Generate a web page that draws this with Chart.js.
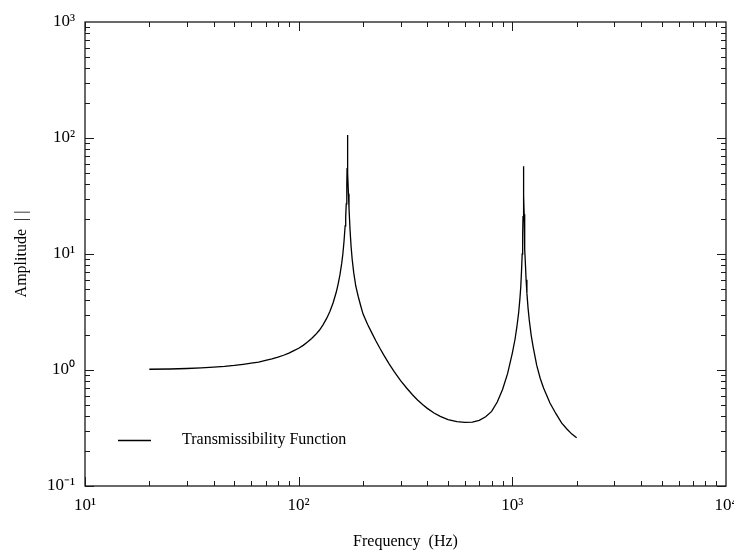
<!DOCTYPE html>
<html><head><meta charset="utf-8">
<script src="https://cdn.jsdelivr.net/npm/chart.js@4.4.1/dist/chart.umd.min.js"></script>
<style>html,body{margin:0;padding:0;background:#fff}#wrap{width:734px;height:551px}</style>
</head><body><div id="wrap"><canvas id="c" width="734" height="551"></canvas></div>
<script>
const frequencyHz = [20,25,30,35,40,45,50,55,60,65,70,75,80,85,90,95,100,105,110,115,120,125,130,135,140,145,150,153,156,159,161,163,165,166,167,168,168.5,169,169.5,170,171,172,174,176,178,181,185,190,195,200,210,220,230,240,250,265,280,300,320,340,360,380,400,430,460,500,550,600,650,700,750,800,850,900,950,1000,1030,1050,1070,1085,1095,1105,1112,1118,1122,1125,1127,1129,1130,1131,1133,1136,1140,1145,1150,1160,1170,1185,1200,1225,1250,1300,1350,1400,1500,1600,1700,1800,1900,2000];
const amplitude = [1.015,1.02,1.03,1.045,1.06,1.075,1.095,1.12,1.145,1.17,1.21,1.245,1.29,1.34,1.40,1.47,1.54,1.63,1.74,1.87,2.02,2.2,2.45,2.77,3.2,3.8,4.7,5.5,6.6,8.3,10,12.8,17.5,21,27,40,55,106,70,50,33,25,16,11.5,9.0,6.9,5.3,4.3,3.6,3.05,2.48,2.09,1.78,1.54,1.35,1.13,0.97,0.81,0.70,0.615,0.552,0.504,0.467,0.426,0.398,0.374,0.359,0.354,0.356,0.368,0.395,0.44,0.53,0.68,0.93,1.4,1.85,2.35,3.1,4.1,5.2,7.4,10,15,21,28,36,50,57,48,32,22,15,11,8.6,6.0,4.6,3.4,2.7,2.0,1.6,1.1,0.85,0.70,0.52,0.42,0.35,0.31,0.28,0.26];
const xTickValues = [10,100,1000,10000];
const xTickLabels = ['10\u00b9','10\u00b2','10\u00b3','10\u2074'];
const yTickValues = [0.1,1,10,100,1000];
const yTickLabels = ['10\u207b\u00b9','10\u2070','10\u00b9','10\u00b2','10\u00b3'];
const seriesLabel = 'Transmissibility Function';
const xTitle = 'Frequency  (Hz)';
const yTitle = 'Amplitude  | |';

const FONT = 'Liberation Serif, "Times New Roman", serif';

const decor = {
  id: 'decor',
  afterDatasetsDraw(chart) {
    const {ctx, chartArea: a, scales: {x, y}} = chart;
    ctx.save();
    ctx.strokeStyle = '#1a1a1a';
    ctx.lineWidth = 1.3;
    ctx.strokeRect(a.left, a.top, a.right - a.left, a.bottom - a.top);
    ctx.lineWidth = 1;
    ctx.beginPath();
    for (let k = 1; k <= 3; k++) {
      for (let m = 1; m <= 9; m++) {
        const v = m * Math.pow(10, k);
        const px = Math.round(x.getPixelForValue(v)) + 0.5;
        const len = m === 1 ? 9 : 5;
        ctx.moveTo(px, a.bottom); ctx.lineTo(px, a.bottom - len);
        ctx.moveTo(px, a.top); ctx.lineTo(px, a.top + len);
      }
    }
    for (let k = -1; k <= 2; k++) {
      for (let m = 1; m <= 9; m++) {
        const v = m * Math.pow(10, k);
        const py = Math.round(y.getPixelForValue(v)) + 0.5;
        const len = m === 1 ? 9 : 5;
        ctx.moveTo(a.left, py); ctx.lineTo(a.left + len, py);
        ctx.moveTo(a.right, py); ctx.lineTo(a.right - len, py);
      }
    }
    ctx.stroke();
    // legend
    const ds = chart.data.datasets[0];
    ctx.strokeStyle = ds.borderColor;
    ctx.lineWidth = 1.3;
    ctx.beginPath();
    ctx.moveTo(118, 440.5); ctx.lineTo(151, 440.5);
    ctx.stroke();
    ctx.fillStyle = '#000';
    ctx.font = '16px ' + FONT;
    ctx.textBaseline = 'middle';
    ctx.textAlign = 'left';
    ctx.fillText(ds.label, 182, 440);
    ctx.restore();
  }
};

new Chart(document.getElementById('c'), {
  type: 'scatter',
  data: {
    datasets: [{
      label: seriesLabel,
      data: frequencyHz.map((f, i) => ({x: f, y: amplitude[i]})),
      showLine: true,
      borderColor: '#000',
      borderWidth: 1.3,
      pointRadius: 0,
      tension: 0
    }]
  },
  options: {
    responsive: false,
    animation: false,
    devicePixelRatio: 1,
    layout: {padding: {top: 22, right: 8, bottom: 0, left: 0}},
    plugins: {legend: {display: false}, tooltip: {enabled: false}},
    scales: {
      x: {
        type: 'logarithmic', min: 10, max: 10000,
        afterBuildTicks: s => { s.ticks = xTickValues.map(v => ({value: v})); },
        afterFit: s => { s.height = 65; s.paddingLeft = 0; s.paddingRight = 0; },
        ticks: {callback: (v, i) => xTickLabels[i], font: {family: FONT, size: 17}, color: '#000', padding: 9, maxRotation: 0, autoSkip: false},
        grid: {display: false, drawTicks: false},
        border: {display: false},
        title: {display: true, text: xTitle, font: {family: FONT, size: 16}, color: '#000', padding: {top: 0, bottom: 0}}
      },
      y: {
        type: 'logarithmic', min: 0.1, max: 1000,
        afterBuildTicks: s => { s.ticks = yTickValues.map(v => ({value: v})); },
        afterFit: s => { s.width = 85; s.paddingTop = 0; s.paddingBottom = 0; },
        ticks: {callback: (v, i) => yTickLabels[i], font: {family: FONT, size: 17}, color: '#000', padding: 10, autoSkip: false},
        grid: {display: false, drawTicks: false},
        border: {display: false},
        title: {display: true, text: yTitle, font: {family: FONT, size: 16}, color: '#000', padding: {top: 12, bottom: 0}}
      }
    }
  },
  plugins: [decor]
});
</script>
</body></html>
